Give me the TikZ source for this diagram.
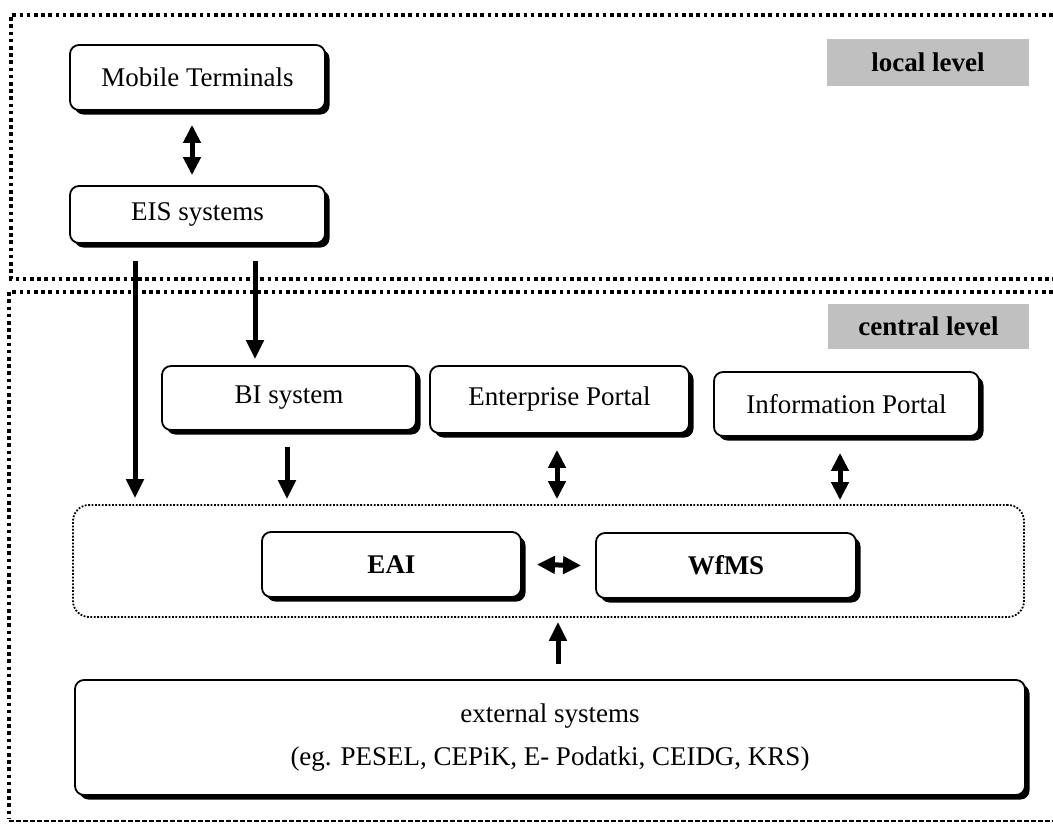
\documentclass[tikz,border=0pt]{standalone}
\usepackage{fontspec}
\setmainfont{Liberation Serif}
\usetikzlibrary{arrows.meta,shadows}
\begin{document}
\begin{tikzpicture}[x=1pt,y=-1pt,
  box/.style={draw, line width=1.8pt, rounded corners=9pt, fill=white,
    drop shadow={shadow xshift=4.5pt, shadow yshift=-4.5pt, fill=black, opacity=1},
    font=\fontsize{27}{32}\selectfont, inner sep=0pt},
  lvl/.style={fill={rgb,255:red,192;green,192;blue,192}, inner sep=0pt,
    font=\fontsize{27}{32}\selectfont\bfseries},
  frame/.style={line width=3.6pt, dash pattern=on 3.6pt off 3.6pt},
  thinframe/.style={line width=2.2pt, dash pattern=on 4.5pt off 2.5pt},
  container/.style={draw, line width=1.8pt, dash pattern=on 1.8pt off 1.6pt, rounded corners=16pt, inner sep=0pt},
  one/.style={line width=5pt, -{Triangle[width=17pt,length=19pt]}},
  two/.style={line width=5pt, {Triangle[width=17pt,length=18pt]}-{Triangle[width=17pt,length=18pt]}}
]
\useasboundingbox (0,0) rectangle (1053,825);
\begin{scope}
\clip (0,0) rectangle (1053,825);
% frames
\draw[frame] (1060,15) -- (11,15) -- (11,279) -- (1060,279);
\draw[frame] (1060,292) -- (9,292) -- (9,818);
\draw[thinframe] (9,821) -- (1060,821);
\end{scope}
% level labels
\node[lvl, minimum width=202pt, minimum height=47pt] (loc) at (928,62.5) {local level};
\node[lvl, minimum width=201pt, minimum height=45pt] (cen) at (928.5,326.5) {central level};
% container
\node[container, minimum width=951pt, minimum height=112pt] (cont) at (548.5,561) {};
% boxes
\node[box, minimum width=255pt, minimum height=65pt] (mob) at (197.5,77.5) {Mobile Terminals};
\node[box, minimum width=255pt, minimum height=57pt] (eis) at (197.5,214.5) {EIS systems};
\node[box, minimum width=254pt, minimum height=64pt] (bi) at (289,398) {BI system};
\node[box, minimum width=259pt, minimum height=67pt] (ent) at (559.5,399.5) {Enterprise Portal};
\node[box, minimum width=265pt, minimum height=64pt] (inf) at (846.5,404) {Information Portal};
\node[box, minimum width=259pt, minimum height=65pt, font=\fontsize{27}{32}\selectfont\bfseries] (eai) at (391.5,564.5) {EAI};
\node[box, minimum width=260pt, minimum height=65pt, font=\fontsize{27}{32}\selectfont\bfseries] (wf) at (726,565.5) {WfMS};
\node[box, minimum width=950pt, minimum height=115pt, align=center, font=\fontsize{27}{43}\selectfont] (ext) at (550,737.5) {external systems\\(eg. PESEL, CEPiK, E- Podatki, CEIDG, KRS)};
% connectors
\draw[two] ([xshift=-5.5pt,yshift=-14pt]mob.south) -- ([xshift=-5.5pt,yshift=10pt]eis.north);
\draw[one] ([xshift=-62.5pt,yshift=-17pt]eis.south) -- ([yshift=6pt]cont.north -| 135,0);
\draw[one] ([xshift=57.5pt,yshift=-17pt]eis.south) -- ([yshift=6pt]bi.north -| 255,0);
\draw[one] ([xshift=-2pt,yshift=-16pt]bi.south) -- ([yshift=5pt]cont.north -| 287,0);
\draw[two] ([xshift=-2.5pt,yshift=-16pt]ent.south) -- ([yshift=5pt]cont.north -| 557,0);
\draw[two] ([xshift=-6.5pt,yshift=-16pt]inf.south) -- ([yshift=4pt]cont.north -| 840,0);
\draw[two] ([xshift=15pt]eai.east) -- ([xshift=-14pt]wf.west);
\draw[one] ([xshift=8pt,yshift=15pt]ext.north) -- ([yshift=-4pt]cont.south -| 558,0);
\end{tikzpicture}
\end{document}
